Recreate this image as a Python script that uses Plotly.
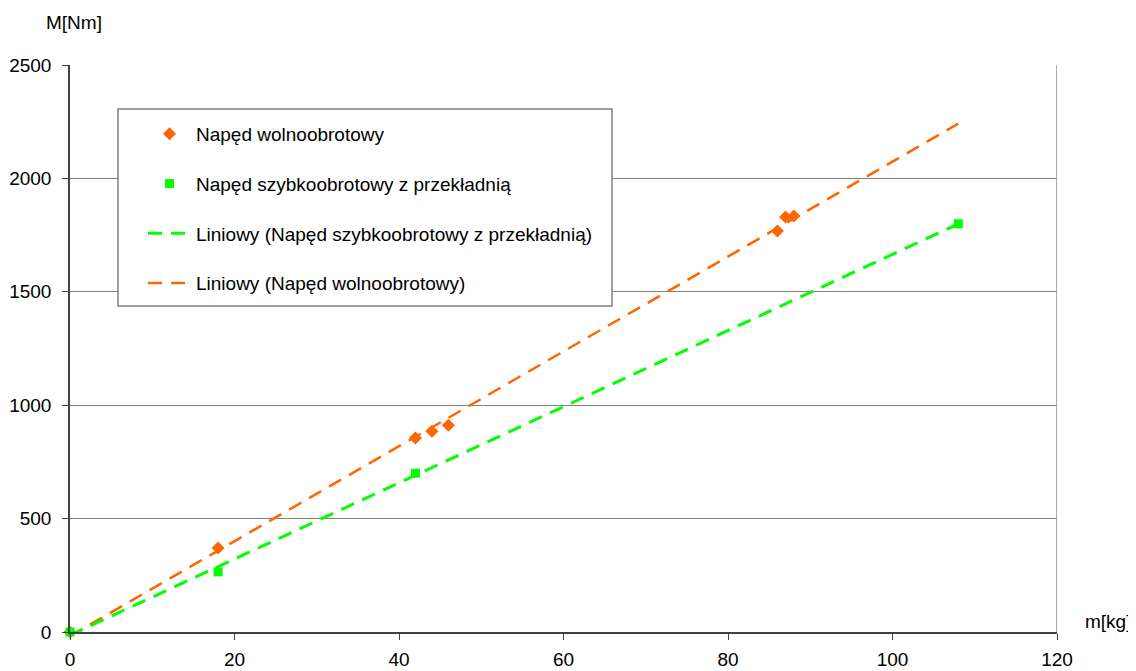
import numpy as np
import plotly.graph_objects as go

# Data
x_wolno = [0, 18, 42, 44, 46, 86, 87, 88]
y_wolno = [0, 370, 855, 885, 912, 1768, 1830, 1834]
x_szybko = [0, 18, 42, 108]
y_szybko = [0, 265, 700, 1800]
x_ticks = [0, 20, 40, 60, 80, 100, 120]
y_ticks = [0, 500, 1000, 1500, 2000, 2500]

name_w = "Napęd wolnoobrotowy"
name_s = "Napęd szybkoobrotowy z przekładnią"
name_ts = "Liniowy (Napęd szybkoobrotowy z przekładnią)"
name_tw = "Liniowy (Napęd wolnoobrotowy)"

ORANGE = "#FF6600"
GREEN = "#00FF00"
FONT = "Liberation Sans, Arial, sans-serif"
FS = 19

# linear trendlines (least squares), over the chart's data x range
x_all = x_wolno + x_szybko
xr = np.array([min(x_all), max(x_all)], dtype=float)
kw, bw = np.polyfit(x_wolno, y_wolno, 1)
ks, bs = np.polyfit(x_szybko, y_szybko, 1)

# plot area in page pixels (page has 8px body margin)
PL, PR, PT, PB = 70, 1057, 65, 632
PW, PH = PR - PL, PB - PT


def px(x):
    return (x - PL) / PW


def py(y):
    return (PB - y) / PH


fig = go.Figure()
fig.add_trace(go.Scatter(x=xr, y=kw * xr + bw, mode="lines", name=name_tw,
                         line=dict(color=ORANGE, width=2.5, dash="14px,9px"),
                         legendgroup="d", legendrank=4))
fig.add_trace(go.Scatter(x=xr, y=ks * xr + bs, mode="lines", name=name_ts,
                         line=dict(color=GREEN, width=3, dash="14px,9px"),
                         legendgroup="c", legendrank=3))
fig.add_trace(go.Scatter(x=x_wolno, y=y_wolno, mode="markers", name=name_w,
                         marker=dict(symbol="diamond", color=ORANGE, size=10),
                         cliponaxis=False,
                         legendgroup="a", legendrank=1))
fig.add_trace(go.Scatter(x=x_szybko, y=y_szybko, mode="markers", name=name_s,
                         marker=dict(symbol="square", color=GREEN, size=9),
                         cliponaxis=False,
                         legendgroup="b", legendrank=2))

fig.update_layout(
    width=1128, height=663,
    margin=dict(l=PL - 8, r=1136 - PR, t=PT - 8, b=671 - PB, autoexpand=False),
    paper_bgcolor="white", plot_bgcolor="white",
    font=dict(family=FONT, size=FS, color="black"),
    showlegend=True,
    legend=dict(x=px(143), y=py(115), xanchor="left", yanchor="top",
                bgcolor="rgba(0,0,0,0)", borderwidth=0,
                traceorder="grouped", tracegroupgap=22,
                font=dict(family=FONT, size=FS, color="black"),
                itemwidth=43),
    xaxis=dict(range=[0, 120], tickvals=x_ticks, showgrid=False, zeroline=False,
               showline=True, linecolor="#404040", linewidth=1.5,
               ticks="outside", ticklen=6, tickcolor="#404040",
               ticklabelstandoff=3, automargin=False, fixedrange=True),
    yaxis=dict(range=[0, 2500], tickvals=y_ticks, showgrid=True, gridcolor="#808080",
               gridwidth=1, zeroline=False,
               showline=True, linecolor="#404040", linewidth=1.5,
               ticks="outside", ticklen=6, tickcolor="#404040",
               ticklabelstandoff=7, automargin=False, fixedrange=True),
    shapes=[
        dict(type="line", xref="x", yref="y", x0=120, x1=120, y0=0, y1=2500,
             line=dict(color="#909090", width=1.5), layer="above"),
        dict(type="rect", xref="paper", yref="paper",
             x0=px(118), x1=px(612), y0=py(306), y1=py(109),
             fillcolor="white", line=dict(color="#808080", width=1.5), layer="above"),
    ],
    annotations=[
        dict(text="M[Nm]", xref="paper", yref="paper", x=px(74), y=py(23),
             xanchor="center", yanchor="middle", showarrow=False,
             font=dict(family=FONT, size=FS)),
        dict(text="m[kg]", xref="paper", yref="paper", x=px(1108), y=py(621),
             xanchor="center", yanchor="middle", showarrow=False,
             font=dict(family=FONT, size=FS)),
    ],
)

fig.write_html("out.html")
